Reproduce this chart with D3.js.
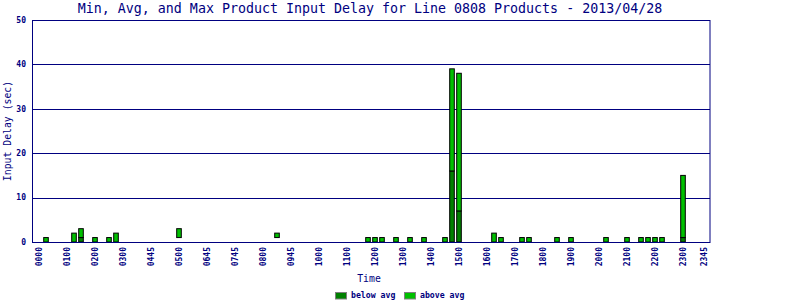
<!DOCTYPE html>
<html>
<head>
<meta charset="utf-8">
<script src="https://cdn.jsdelivr.net/npm/d3@7"></script>
<style>
	body { margin: 0; background: #fff; }
	text { font-family: "DejaVu Sans Mono", monospace; fill: #000080; }
	.tick { font-size: 8px; font-weight: bold; }
</style>
</head>
<body>
<div id="graphicContainer"></div>
<script>

// 15 minute slots that have data
var slots = ["0015","0115","0130","0200","0230","0245","0500","0830","1145","1200",
	"1215","1245","1315","1345","1430","1445","1500","1615","1630","1715",
	"1730","1830","1900","2015","2100","2130","2145","2200","2215","2300"]

var minVals = [0,0,0,0,0,0,1,1,0,0, 0,0,0,0,0,0,0,0,0,0, 0,0,0,0,0,0,0,0,0,0]
var avgVals = [0,0,1,0,0,0,1,1,0,0, 0,0,0,0,0,16,7,0,0,0, 0,0,0,0,0,0,0,0,0,1]
var maxVals = [1,2,3,1,1,2,3,2,1,1, 1,1,1,1,1,39,38,2,1,1, 1,1,1,1,1,1,1,1,1,15]

// x axis labels as printed, one every 4th slot plus the last slot
var tickLabels = ["0000","0100","0200","0300","0445","0500","0645","0745","0800","0945",
	"1000","1100","1200","1300","1400","1500","1600","1700","1800","1900",
	"2000","2100","2200","2300","2345"]
var tickSlots = [0,4,8,12,16,20,24,28,32,36,40,44,48,52,56,60,64,68,72,76,80,84,88,92,95]

var yTicks = [0,10,20,30,40,50]

function slotIndex(s) {
	return (+s.slice(0,2)) * 4 + (+s.slice(2)) / 15
}

var data = slots.map(function(s, i) {
	return { slot: slotIndex(s), min: minVals[i], avg: avgVals[i], max: maxVals[i] }
})

var margin = {top: 20, right: 90, bottom: 58, left: 32}
var width = 800 - margin.left - margin.right
var height = 300 - margin.top - margin.bottom

var svg = d3.select("#graphicContainer").append("svg")
	.attr("width", 800)
	.attr("height", 300)

var navy = "#000080"
var darkGreen = "#008000"
var lightGreen = "#00c000"

svg.append("text")
	.attr("x", 370)
	.attr("y", 13)
	.attr("text-anchor", "middle")
	.style("font-size", "13.3px")
	.text("Min, Avg, and Max Product Input Delay for Line 0808 Products - 2013/04/28")

var features = svg.append("g").attr("transform", "translate(" + margin.left + "," + margin.top + ")")

var x = d3.scaleLinear()
	.domain([0, 95])
	.range([7, 672])

var y = d3.scaleLinear()
	.domain([0, 50])
	.range([height, 0])

// grid
features.selectAll(".grid")
	.data(yTicks.slice(1, -1))
	.enter()
	.append("line")
	.attr("x1", 0)
	.attr("x2", width)
	.attr("y1", d => Math.round(y(d)) + 0.5)
	.attr("y2", d => Math.round(y(d)) + 0.5)
	.attr("stroke", navy)

var barW = 4.6

// below avg: min -> avg
features.selectAll(".below")
	.data(data.filter(d => d.avg > d.min))
	.enter()
	.append("rect")
	.attr("x", d => x(d.slot) - barW / 2)
	.attr("width", barW)
	.attr("y", d => y(d.avg))
	.attr("height", d => y(d.min) - y(d.avg))
	.attr("fill", darkGreen)
	.attr("stroke", "#000")
	.attr("stroke-width", 1)

// above avg: avg -> max
features.selectAll(".above")
	.data(data.filter(d => d.max > d.avg))
	.enter()
	.append("rect")
	.attr("x", d => x(d.slot) - barW / 2)
	.attr("width", barW)
	.attr("y", d => y(d.max))
	.attr("height", d => y(d.avg) - y(d.max))
	.attr("fill", lightGreen)
	.attr("stroke", "#000")
	.attr("stroke-width", 1)

// frame
features.append("rect")
	.attr("x", 0.5)
	.attr("y", 0.5)
	.attr("width", width - 0.5)
	.attr("height", height)
	.attr("fill", "none")
	.attr("stroke", navy)

// y labels
features.selectAll(".ylab")
	.data(yTicks)
	.enter()
	.append("text")
	.attr("class", "tick")
	.attr("x", -6)
	.attr("y", d => y(d))
	.attr("dy", "0.35em")
	.attr("text-anchor", "end")
	.text(d => d)

// x labels
features.selectAll(".xlab")
	.data(tickLabels)
	.enter()
	.append("text")
	.attr("class", "tick")
	.attr("transform", (d, i) => "translate(" + (x(tickSlots[i]) + 0.5) + "," + (height + 5) + ") rotate(-90)")
	.attr("dy", "0.35em")
	.attr("text-anchor", "end")
	.text(d => d)

svg.append("text")
	.attr("x", 369)
	.attr("y", 282)
	.attr("text-anchor", "middle")
	.style("font-size", "9.8px")
	.text("Time")

svg.append("text")
	.attr("transform", "translate(11," + (margin.top + height / 2) + ") rotate(-90)")
	.attr("text-anchor", "middle")
	.style("font-size", "9.8px")
	.text("Input Delay (sec)")

// legend
var legend = [["below avg", darkGreen, 335.5], ["above avg", lightGreen, 404.5]]
legend.forEach(function(l) {
	svg.append("rect")
		.attr("x", l[2])
		.attr("y", 292.5)
		.attr("width", 11)
		.attr("height", 6.5)
		.attr("fill", l[1])
		.attr("stroke", "#808080")
	svg.append("text")
		.attr("class", "tick")
		.attr("x", l[2] + 15.5)
		.attr("y", 298)
		.style("font-size", "8.2px")
		.text(l[0])
})

</script>
</body>
</html>
